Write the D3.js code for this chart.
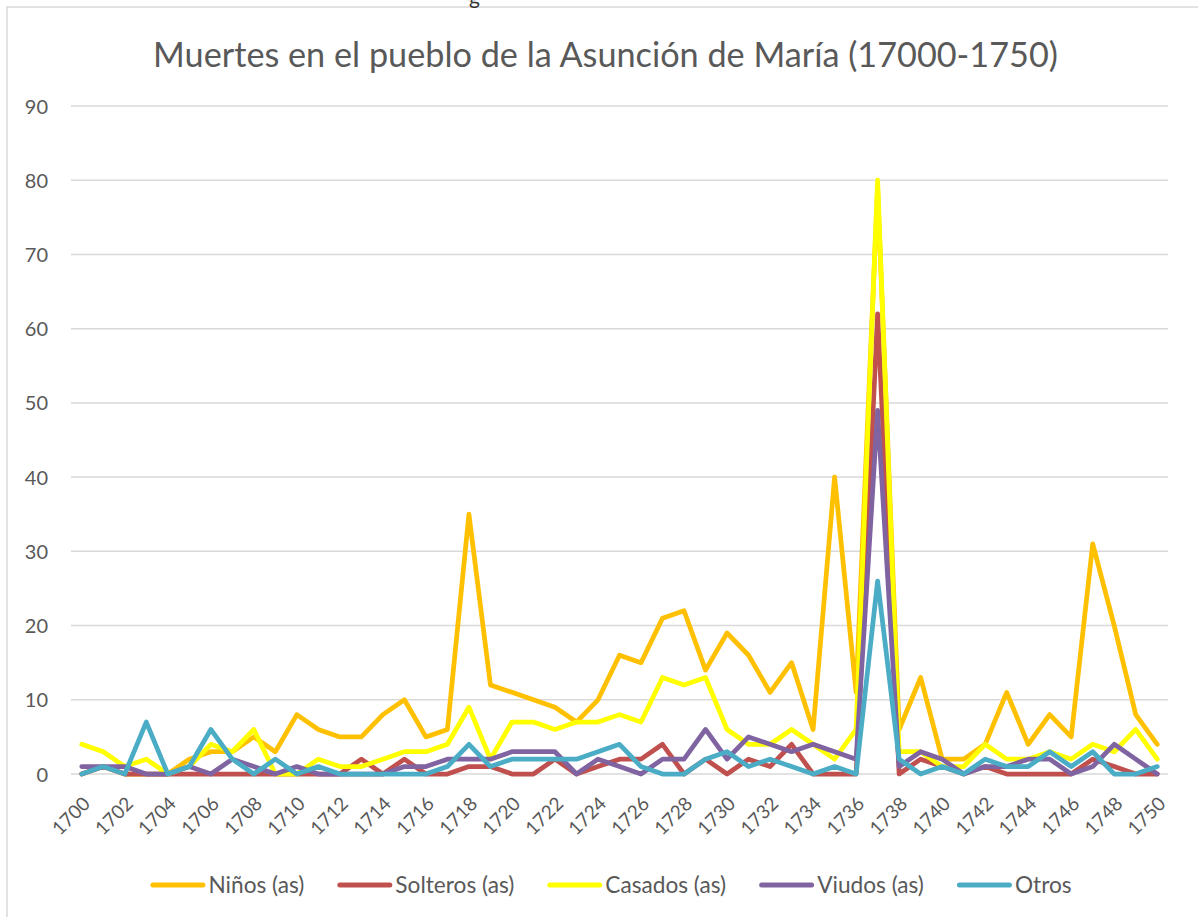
<!DOCTYPE html>
<html>
<head>
<meta charset="utf-8">
<script src="https://cdn.jsdelivr.net/npm/d3@7"></script>
<style>
  body { margin: 0; background: #fff; }
  svg text { font-family: "Lato", "Open Sans", sans-serif; fill: #595959; }
</style>
</head>
<body>
<svg id="vis" width="1198" height="917"></svg>
<script>
// years on the x axis
var years = d3.range(1700, 1751);
var yTicks = [0, 10, 20, 30, 40, 50, 60, 70, 80, 90];

var ninos = [0, 1, 0, 0, 0, 2, 3, 3, 5, 3, 8, 6, 5, 5, 8, 10, 5, 6, 35, 12,
  11, 10, 9, 7, 10, 16, 15, 21, 22, 14, 19, 16, 11, 15, 6, 40, 11, 79, 6, 13,
  2, 2, 4, 11, 4, 8, 5, 31, 20, 8, 4];
var solteros = [0, 1, 0, 0, 0, 0, 0, 0, 0, 0, 0, 0, 0, 2, 0, 2, 0, 0, 1, 1,
  0, 0, 2, 0, 1, 2, 2, 4, 0, 2, 0, 2, 1, 4, 0, 0, 0, 62, 0, 2,
  1, 0, 1, 0, 0, 0, 0, 2, 1, 0, 0];
var casados = [4, 3, 1, 2, 0, 1, 4, 3, 6, 0, 0, 2, 1, 1, 2, 3, 3, 4, 9, 2,
  7, 7, 6, 7, 7, 8, 7, 13, 12, 13, 6, 4, 4, 6, 4, 2, 6, 80, 3, 3,
  1, 1, 4, 2, 2, 3, 2, 4, 3, 6, 2];
var viudos = [1, 1, 1, 0, 0, 1, 0, 2, 1, 0, 1, 0, 0, 0, 0, 1, 1, 2, 2, 2,
  3, 3, 3, 0, 2, 1, 0, 2, 2, 6, 2, 5, 4, 3, 4, 3, 2, 49, 1, 3,
  2, 0, 1, 1, 2, 2, 0, 1, 4, 2, 0];
var otros = [0, 1, 0, 7, 0, 1, 6, 2, 0, 2, 0, 1, 0, 0, 0, 0, 0, 1, 4, 1,
  2, 2, 2, 2, 3, 4, 1, 0, 0, 2, 3, 1, 2, 1, 0, 1, 0, 26, 2, 0,
  1, 0, 2, 1, 1, 3, 1, 3, 0, 0, 1];

var seriesNames = ["Niños (as)", "Solteros (as)", "Casados (as)", "Viudos (as)", "Otros"];
var seriesValues = [ninos, solteros, casados, viudos, otros];

// Office default palette
const colors = ["#FFC000", "#C0504D", "#FFFF00", "#8064A2", "#4BACC6"];

var svg = d3.select("svg#vis");

var attr = {
  left: 71,
  right: 1168,
  top: 106,
  bottom: 774
};

var series = seriesNames.map(function(name, k) {
  return { name: name, color: colors[k], values: seriesValues[k].map(function(v, i) { return { year: years[i], value: v }; }) };
});

var x = d3.scalePoint()
.domain(years)
.range([attr.left, attr.right])
.padding(0.5);

var y = d3.scaleLinear()
.domain([0, 90])
.range([attr.bottom, attr.top]);

// frame of the chart object (runs past the page edge)
svg.append("rect")
.attr("x", 7)
.attr("y", 7)
.attr("width", 1400)
.attr("height", 1100)
.style("fill", "#fff")
.style("stroke", "#d9d9d9")
.style("stroke-width", 1.5);

// bit of the page text above the chart, cut by the page top like in the scan
svg.append("text")
.attr("x", 469)
.attr("y", 4)
.style("font-size", "21px")
.style("fill", "#333")
.text("g");

// gridlines
svg.append("g")
.selectAll("line")
.data(yTicks)
.enter()
.append("line")
.attr("x1", attr.left)
.attr("x2", attr.right)
.attr("y1", d => y(d))
.attr("y2", d => y(d))
.style("stroke", "#d9d9d9")
.style("stroke-width", 1.5);

// y axis labels
var yAxis = svg.append("g")
.attr("transform", "translate(" + (attr.left - 23) + ",0)")
.call(d3.axisLeft(y).tickValues(yTicks).tickSize(0).tickPadding(0));
yAxis.select(".domain").remove();
yAxis.selectAll("text")
.style("font-size", "20px")
.style("font-family", "Lato, sans-serif")
.attr("fill", "#595959")
.attr("dy", "0.35em");

// x axis labels, every other year, rotated
var xAxis = svg.append("g")
.attr("transform", "translate(0," + attr.bottom + ")")
.call(d3.axisBottom(x).tickValues(years.filter(d => d % 2 == 0)).tickSize(0).tickPadding(0));
xAxis.select(".domain").remove();
xAxis.selectAll("text")
.style("font-size", "19px")
.style("font-family", "Lato, sans-serif")
.attr("fill", "#595959")
.attr("text-anchor", "end")
.attr("dy", null)
.attr("y", 0)
.attr("transform", "translate(9,31) rotate(-45)");

// lines
var line = d3.line()
.x(d => x(d.year))
.y(d => y(d.value));

svg.append("g")
.selectAll("path")
.data(series)
.enter()
.append("path")
.attr("d", d => line(d.values))
.style("fill", "none")
.style("stroke", d => d.color)
.style("stroke-width", 4.75)
.style("stroke-linejoin", "round")
.style("stroke-linecap", "round");

// title, scaled to the width it has in the reference
var title = svg.append("text")
.attr("x", (153 + 1058) / 2)
.attr("y", 67)
.attr("text-anchor", "middle")
.style("font-size", "30px")
.text("Muertes en el pueblo de la Asunción de María (17000-1750)");
var tw = title.node().getComputedTextLength();
title.style("font-size", (30 * 905 / tw) + "px");

// legend
var legend = svg.append("g").attr("class", "legend");
var items = legend.selectAll("g")
.data(series)
.enter()
.append("g");

items.append("line")
.attr("x1", 2.5)
.attr("x2", 52.5)
.attr("y1", 0)
.attr("y2", 0)
.style("stroke", d => d.color)
.style("stroke-width", 5)
.style("stroke-linecap", "round");

var legendText = items.append("text")
.attr("x", 58)
.attr("y", 0)
.attr("dy", "0.35em")
.style("font-size", "20px")
.text(d => d.name);

// size legend text so "Niños (as)" is about as wide as in the reference
var lw = legendText.node().getComputedTextLength();
legendText.style("font-size", (20 * 96 / lw) + "px");

var pos = 0, offsets = [];
items.each(function(d) {
  var w = 58 + d3.select(this).select("text").node().getComputedTextLength();
  offsets.push(pos);
  pos += w + 33;
});
var total = pos - 33;
var startX = 611 - total / 2;
items.attr("transform", function(d, i) { return "translate(" + (startX + offsets[i]) + ",885)"; });
</script>
</body>
</html>
